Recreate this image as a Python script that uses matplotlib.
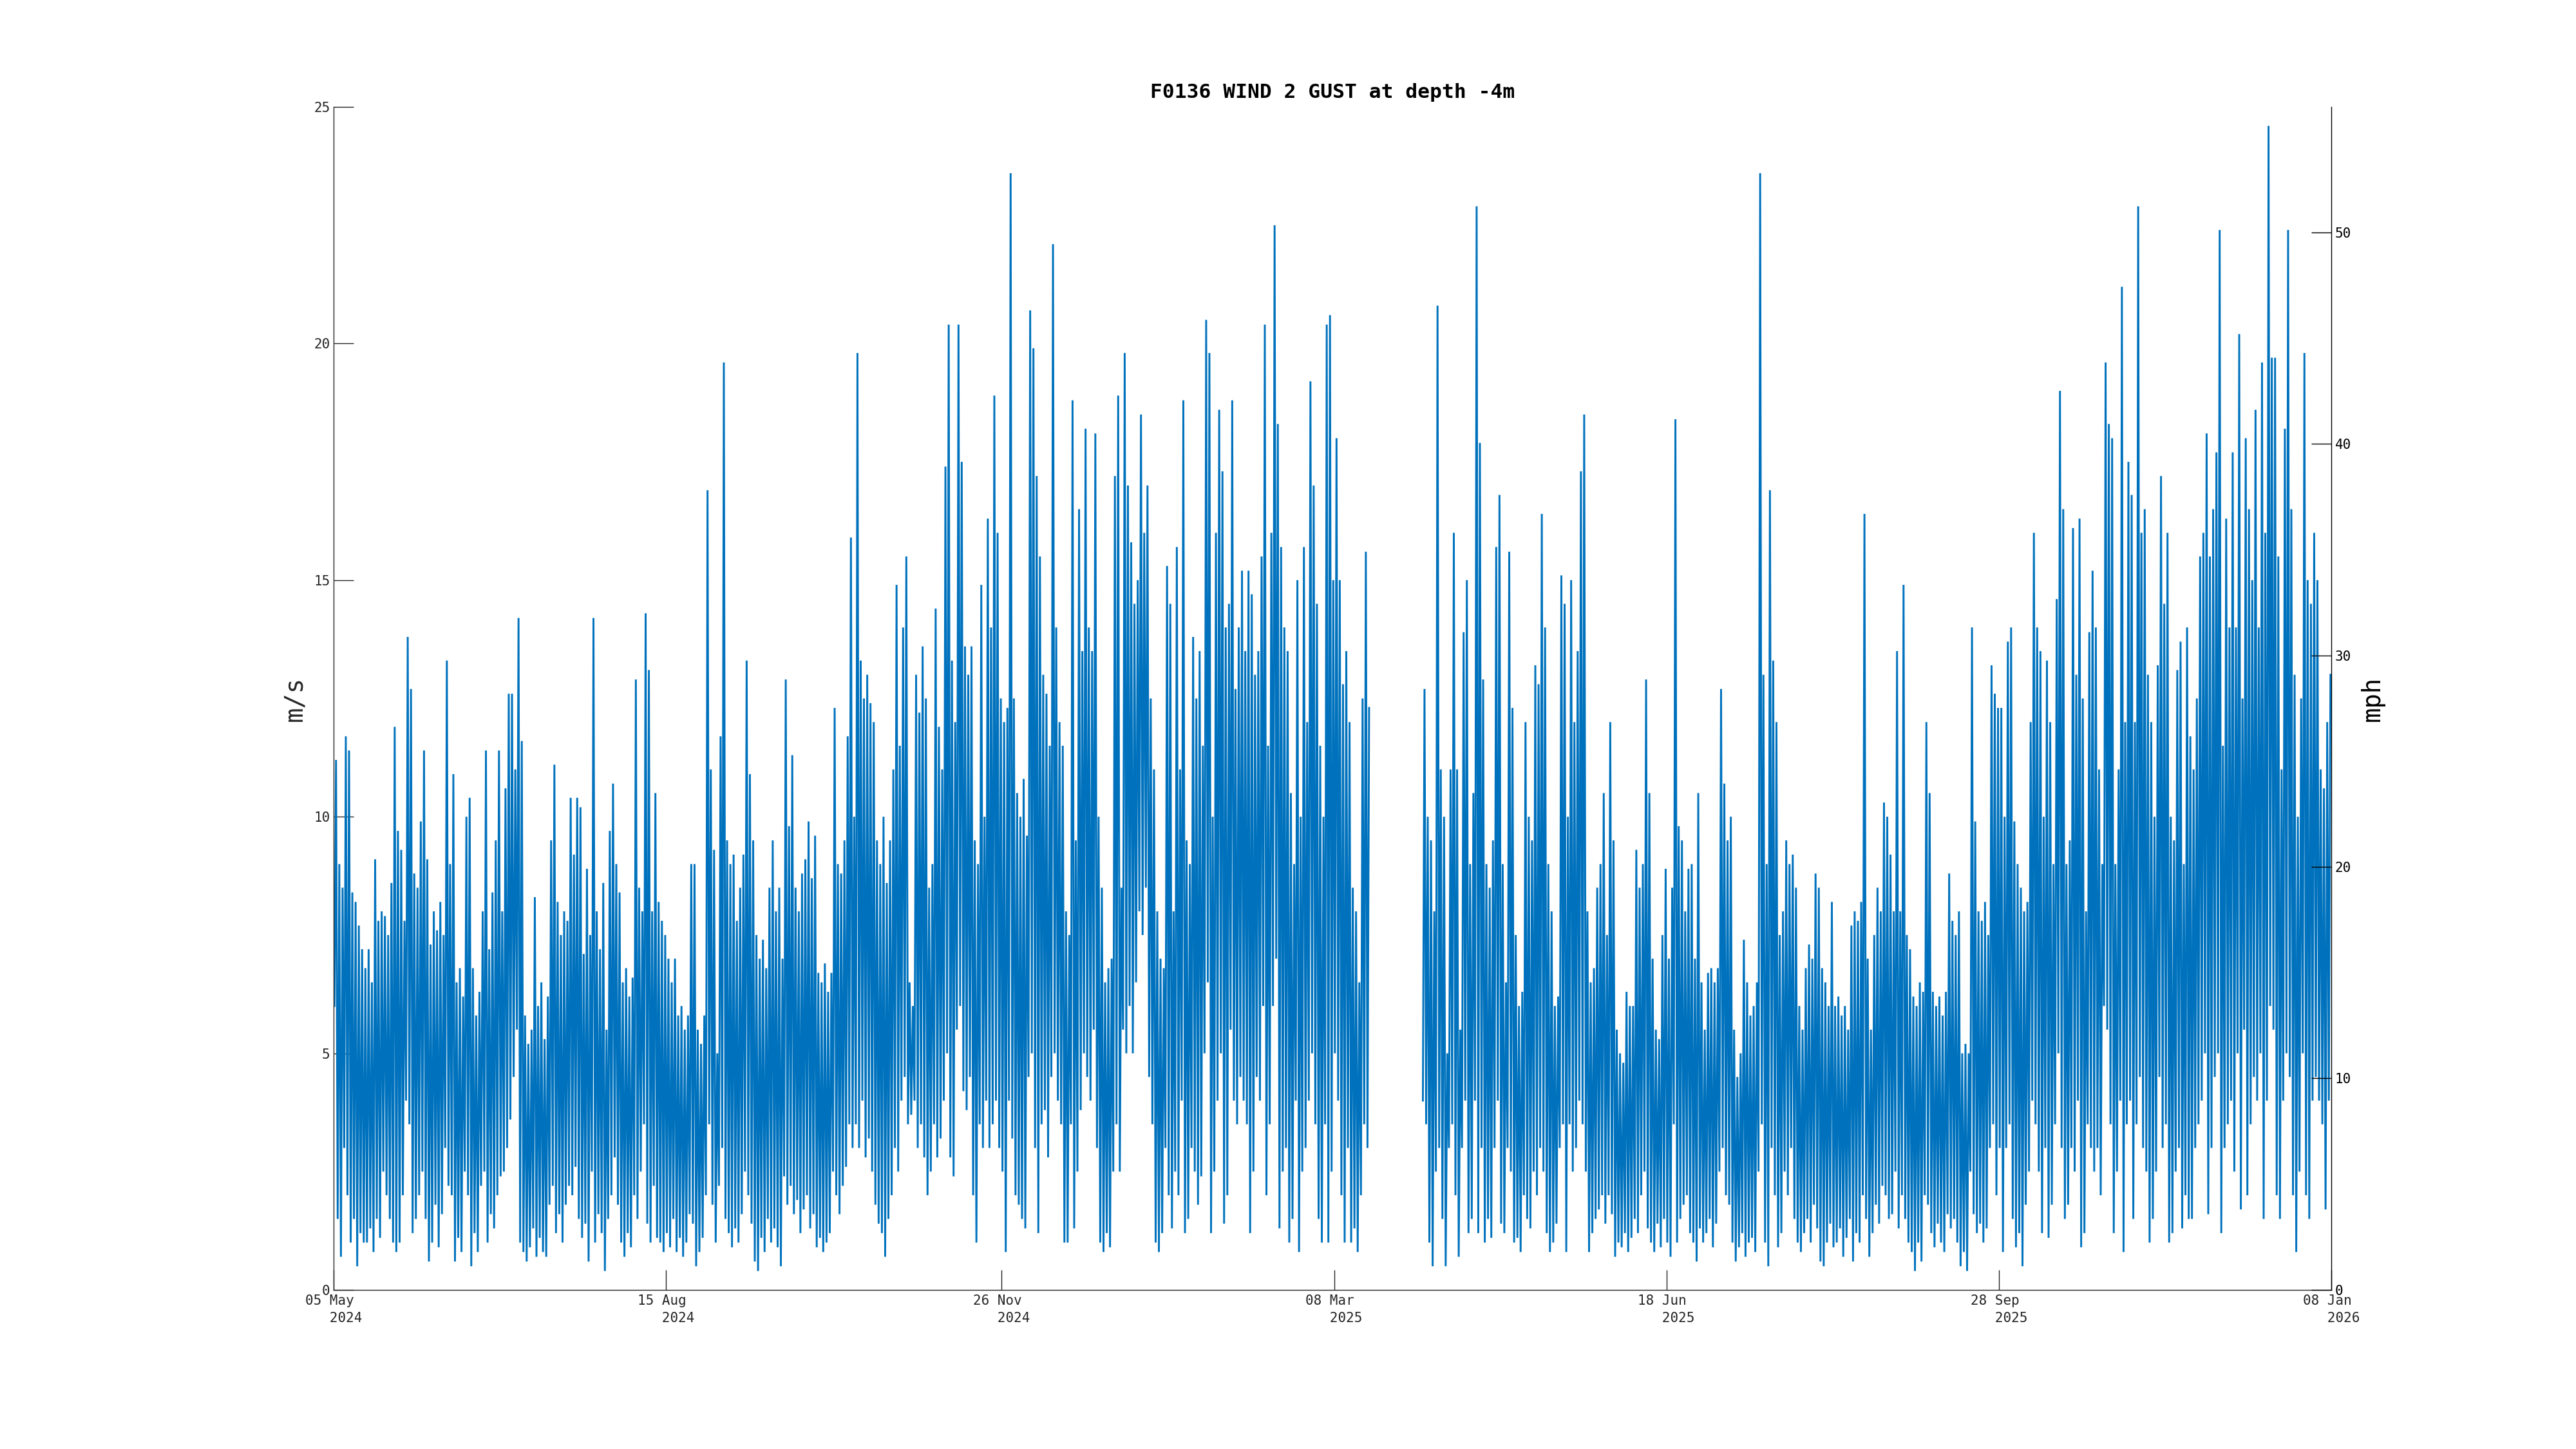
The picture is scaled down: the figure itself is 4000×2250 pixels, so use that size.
import numpy as np
import pandas as pd
import matplotlib
matplotlib.use("Agg")
import matplotlib.pyplot as plt

nan = float("nan")

# ---------------- data ----------------
title = "F0136 WIND 2 GUST at depth -4m"
first_day = "2024-05-05"

# estimated daily maximum gust (m/s), one value per day from 05 May 2024
daily_high = [
    11.2, 9.0, 8.5, 11.7, 11.4, 8.4, 8.2, 7.7, 7.2, 6.8,
    7.2, 6.5, 9.1, 7.8, 8.0, 7.9, 7.5, 8.6, 11.9, 9.7,
    9.3, 7.8, 13.8, 12.7, 8.8, 8.5, 9.9, 11.4, 9.1, 7.3,
    8.0, 7.6, 8.2, 7.5, 13.3, 9.0, 10.9, 6.5, 6.8, 6.2,
    10.0, 10.4, 6.8, 5.8, 6.3, 8.0, 11.4, 7.2, 8.4, 9.5,
    11.4, 8.0, 10.6, 12.6, 12.6, 11.0, 14.2, 11.6, 5.8, 5.2,
    5.5, 8.3, 6.0, 6.5, 5.3, 6.2, 9.5, 11.1, 8.2, 7.5,
    8.0, 7.8, 10.4, 9.2, 10.4, 10.2, 7.1, 8.9, 7.5, 14.2,
    8.0, 7.2, 8.6, 5.5, 9.7, 10.7, 9.0, 8.4, 6.5, 6.8,
    6.2, 6.6, 12.9, 8.5, 8.0, 14.3, 13.1, 8.0, 10.5, 8.2,
    7.8, 7.5, 7.0, 6.5, 7.0, 5.8, 6.0, 5.5, 5.8, 9.0,
    9.0, 5.5, 5.2, 5.8, 16.9, 11.0, 9.3, 5.0, 11.7, 19.6,
    9.5, 9.0, 9.2, 7.8, 8.5, 9.2, 13.3, 10.9, 9.5, 7.5,
    7.0, 7.4, 6.8, 8.5, 9.5, 8.0, 8.5, 7.0, 12.9, 9.8,
    11.3, 8.5, 8.0, 8.8, 9.1, 9.9, 8.7, 9.6, 6.7, 6.5,
    6.9, 6.3, 6.7, 12.3, 9.0, 8.8, 9.5, 11.7, 15.9, 10.0,
    19.8, 13.3, 12.5, 13.0, 12.4, 12.0, 9.5, 9.0, 10.0, 8.6,
    9.5, 11.0, 14.9, 11.5, 14.0, 15.5, 6.5, 6.0, 13.0, 12.2,
    13.6, 12.5, 8.5, 9.0, 14.4, 11.9, 11.0, 17.4, 20.4, 13.3,
    12.0, 20.4, 17.5, 13.6, 13.0, 13.6, 9.5, 9.0, 14.9, 10.0,
    16.3, 14.0, 18.9, 16.0, 12.5, 12.0, 12.3, 23.6, 12.5, 10.5,
    10.0, 10.8, 9.6, 20.7, 19.9, 17.2, 15.5, 13.0, 12.6, 11.5,
    22.1, 14.0, 12.0, 11.5, 8.0, 7.5, 18.8, 9.5, 16.5, 13.5,
    18.2, 14.0, 13.5, 18.1, 10.0, 8.5, 6.5, 6.8, 7.0, 17.2,
    18.9, 8.5, 19.8, 17.0, 15.8, 14.5, 15.0, 18.5, 16.0, 17.0,
    12.5, 11.0, 8.0, 7.0, 6.8, 15.3, 14.5, 8.0, 15.7, 11.0,
    18.8, 9.5, 9.0, 13.8, 12.5, 13.5, 11.5, 20.5, 19.8, 10.0,
    16.0, 18.6, 17.3, 14.0, 14.5, 18.8, 12.7, 14.0, 15.2, 13.5,
    15.2, 14.7, 13.0, 13.5, 15.5, 20.4, 11.5, 16.0, 22.5, 18.3,
    15.7, 14.0, 13.5, 10.5, 9.0, 15.0, 10.0, 15.7, 12.0, 19.2,
    17.0, 14.5, 11.5, 10.0, 20.4, 20.6, 15.0, 18.0, 15.0, 12.8,
    13.5, 12.0, 8.5, 8.0, 6.5, 12.5, 15.6, 12.3,
    nan, nan, nan, nan, nan, nan, nan, nan,
    nan, nan, nan, nan, nan, nan, nan, nan,
    12.7, 10.0, 9.5, 8.0, 20.8, 11.0,
    10.0, 5.0, 11.0, 16.0, 11.0, 5.5, 13.9, 15.0, 9.0, 10.5,
    22.9, 17.9, 12.9, 9.0, 8.5, 9.5, 15.7, 16.8, 9.0, 6.5,
    15.6, 12.3, 7.5, 6.0, 6.3, 12.0, 10.0, 9.5, 13.2, 12.8,
    16.4, 14.0, 9.0, 8.0, 6.0, 6.2, 15.1, 14.5, 10.0, 15.0,
    12.0, 13.5, 17.3, 18.5, 8.0, 6.5, 6.8, 8.5, 9.0, 10.5,
    7.5, 12.0, 9.5, 5.5, 5.0, 4.8, 6.3, 6.0, 6.0, 9.3,
    8.5, 9.0, 12.9, 10.5, 7.0, 5.5, 5.3, 7.5, 8.9, 7.0,
    8.5, 18.4, 9.8, 9.5, 8.0, 8.9, 9.0, 7.0, 10.5, 6.5,
    5.5, 6.7, 6.8, 6.5, 6.8, 12.7, 10.7, 9.5, 10.0, 5.5,
    4.5, 5.0, 7.4, 6.5, 5.8, 6.0, 6.5, 23.6, 13.0, 9.0,
    16.9, 13.3, 12.0, 7.5, 8.0, 9.5, 9.0, 9.2, 8.5, 6.0,
    5.5, 6.8, 7.3, 7.0, 8.8, 8.5, 6.8, 6.5, 6.0, 8.2,
    6.0, 6.2, 5.8, 6.0, 5.5, 7.7, 8.0, 7.8, 8.2, 16.4,
    7.0, 5.5, 7.5, 8.5, 8.0, 10.3, 10.0, 9.2, 8.0, 13.5,
    8.0, 14.9, 7.5, 7.2, 6.2, 6.0, 6.5, 6.3, 12.0, 10.5,
    6.3, 6.0, 6.2, 5.8, 6.3, 8.8, 7.8, 7.5, 8.0, 5.0,
    5.2, 5.0, 14.0, 9.9, 8.0, 7.8, 8.2, 7.5, 13.2, 12.6,
    12.3, 12.3, 10.0, 13.7, 14.0, 9.9, 9.0, 8.5, 8.0, 8.2,
    12.0, 16.0, 14.0, 13.5, 10.0, 13.3, 12.0, 9.0, 14.6, 19.0,
    16.5, 9.0, 9.5, 16.1, 13.0, 16.3, 12.5, 8.0, 13.9, 15.2,
    14.0, 11.0, 9.0, 19.6, 18.3, 18.0, 9.0, 11.0, 21.2, 12.0,
    17.5, 16.8, 12.0, 22.9, 16.0, 16.5, 13.0, 12.0, 10.0, 13.2,
    17.2, 14.5, 16.0, 10.0, 9.5, 13.1, 13.7, 9.0, 14.0, 11.7,
    11.0, 12.5, 15.5, 16.0, 18.1, 15.5, 16.5, 17.7, 22.4, 11.5,
    16.3, 14.0, 17.7, 14.0, 20.2, 12.5, 18.0, 16.5, 15.0, 18.6,
    14.0, 19.6, 16.0, 24.6, 19.7, 19.7, 15.5, 11.0, 18.2, 22.4,
    16.5, 13.0, 10.0, 12.5, 19.8, 15.0, 14.5, 16.0, 15.0, 11.0,
    10.6, 12.0, 13.0,
]

# estimated daily minimum gust (m/s)
daily_low = [
    6.0, 1.5, 0.7, 3.0, 2.0, 1.0, 1.5, 0.5, 1.2, 1.0,
    1.0, 1.3, 0.8, 1.5, 1.1, 2.5, 2.0, 1.5, 1.0, 0.8,
    1.0, 2.0, 4.0, 3.5, 1.2, 1.5, 2.0, 2.5, 1.5, 0.6,
    1.0, 1.8, 0.9, 1.6, 3.0, 2.2, 2.0, 0.6, 1.1, 0.8,
    2.5, 2.0, 0.5, 1.2, 0.8, 2.2, 2.5, 1.0, 1.6, 1.3,
    2.0, 2.4, 2.5, 3.0, 3.6, 4.5, 5.5, 1.0, 0.8, 0.6,
    0.9, 1.3, 0.7, 1.1, 0.8, 0.7, 1.8, 2.2, 1.2, 1.6,
    1.0, 1.8, 2.2, 2.0, 2.6, 1.5, 1.1, 1.4, 0.6, 2.5,
    1.0, 1.6, 1.2, 0.4, 1.5, 2.0, 2.8, 1.8, 1.0, 0.7,
    1.2, 0.9, 2.0, 1.5, 2.5, 3.5, 1.4, 1.0, 2.2, 1.1,
    1.0, 0.8, 1.2, 0.9, 1.5, 0.8, 1.1, 0.7, 1.0, 1.6,
    1.4, 0.5, 0.8, 1.1, 2.0, 3.5, 1.8, 1.0, 2.2, 3.0,
    1.5, 1.2, 0.9, 1.3, 1.0, 1.6, 2.5, 2.0, 1.4, 0.6,
    0.4, 1.1, 0.8, 1.5, 1.0, 1.3, 0.9, 0.5, 2.4, 1.8,
    2.2, 1.6, 1.9, 1.2, 1.7, 2.0, 1.3, 1.6, 0.9, 1.1,
    0.8, 1.0, 1.2, 2.5, 2.0, 1.6, 2.2, 2.6, 3.5, 3.0,
    3.5, 3.0, 4.0, 2.8, 3.2, 2.5, 1.8, 1.4, 1.2, 0.7,
    1.5, 2.0, 3.0, 2.5, 4.0, 4.5, 3.5, 3.7, 4.0, 3.0,
    3.5, 2.8, 2.0, 2.5, 3.5, 2.8, 3.2, 4.0, 5.0, 2.8,
    2.4, 5.5, 6.0, 4.2, 3.8, 4.5, 2.0, 1.0, 3.5, 3.0,
    4.0, 3.0, 3.5, 4.0, 3.0, 2.5, 0.8, 4.0, 3.2, 2.0,
    1.8, 1.5, 1.3, 4.5, 5.0, 3.0, 1.2, 3.5, 3.8, 2.8,
    4.5, 5.0, 4.0, 3.5, 1.0, 1.0, 3.5, 1.3, 2.5, 3.8,
    5.0, 4.5, 4.0, 5.5, 3.0, 1.0, 0.8, 1.2, 0.9, 2.5,
    3.5, 2.5, 5.5, 5.0, 6.0, 5.0, 6.5, 8.0, 7.5, 8.5,
    4.5, 3.5, 1.0, 0.8, 1.2, 3.0, 2.0, 1.3, 2.5, 2.0,
    4.0, 1.2, 1.5, 3.0, 2.5, 1.8, 2.4, 5.0, 6.5, 1.2,
    2.5, 4.0, 5.0, 1.4, 2.0, 5.5, 4.0, 3.5, 4.5, 4.0,
    3.5, 1.2, 2.5, 4.5, 4.0, 6.0, 2.0, 3.5, 6.0, 7.0,
    1.3, 2.5, 3.0, 1.0, 1.5, 4.0, 0.8, 2.5, 3.0, 4.0,
    5.0, 3.5, 1.5, 1.0, 3.5, 1.0, 2.5, 5.0, 4.0, 2.0,
    1.0, 3.0, 1.0, 1.3, 0.8, 2.0, 3.5, 3.0,
    nan, nan, nan, nan, nan, nan, nan, nan,
    nan, nan, nan, nan, nan, nan, nan, nan,
    4.0, 3.5, 1.0, 0.5, 2.5, 3.0,
    1.5, 0.5, 3.0, 3.5, 2.0, 0.7, 3.0, 4.0, 1.2, 1.5,
    4.0, 1.2, 3.0, 1.0, 1.5, 1.1, 3.0, 4.0, 1.4, 1.2,
    3.0, 2.5, 1.0, 1.1, 0.8, 2.0, 1.5, 1.3, 2.5, 2.0,
    3.0, 2.5, 1.2, 0.8, 1.0, 1.4, 3.0, 3.5, 0.8, 3.5,
    2.5, 3.0, 4.0, 3.5, 2.5, 0.8, 1.2, 1.5, 1.7, 2.0,
    1.4, 2.0, 1.6, 0.7, 1.0, 0.9, 1.2, 0.8, 1.1, 1.5,
    1.2, 2.0, 2.5, 1.3, 1.0, 0.8, 1.4, 0.9, 1.5, 1.0,
    0.7, 3.5, 1.0, 1.5, 1.8, 2.0, 1.2, 1.0, 0.6, 1.3,
    1.0, 1.2, 1.5, 0.9, 1.4, 2.5, 3.0, 2.0, 1.8, 1.0,
    0.6, 0.9, 1.2, 0.7, 1.0, 1.1, 0.8, 2.5, 3.5, 1.0,
    0.5, 3.0, 2.0, 0.9, 1.2, 2.5, 2.0, 3.0, 1.5, 1.0,
    0.8, 1.2, 1.5, 1.0, 1.8, 1.3, 0.6, 0.5, 1.0, 1.4,
    0.9, 1.0, 1.3, 0.7, 1.1, 1.5, 0.6, 1.2, 1.0, 2.0,
    1.5, 0.7, 1.2, 1.8, 1.4, 2.2, 2.0, 1.5, 1.6, 2.5,
    1.3, 2.0, 1.5, 1.0, 0.8, 0.4, 1.0, 0.6, 2.0, 1.8,
    1.2, 0.9, 1.4, 1.0, 0.8, 1.6, 1.3, 1.5, 1.0, 0.5,
    0.8, 0.4, 2.5, 1.6, 1.2, 1.4, 1.0, 1.3, 3.0, 3.5,
    2.0, 3.0, 0.8, 3.0, 3.5, 1.5, 0.9, 1.2, 0.5, 1.8,
    2.5, 4.0, 3.5, 2.5, 1.2, 3.0, 1.1, 1.8, 3.5, 5.0,
    3.0, 1.5, 1.8, 3.0, 2.5, 4.0, 0.9, 1.2, 3.5, 3.0,
    2.5, 3.0, 2.0, 6.0, 5.5, 3.5, 1.2, 2.5, 4.0, 0.8,
    3.5, 4.0, 1.5, 3.5, 4.5, 3.0, 2.5, 1.0, 1.5, 2.5,
    4.5, 3.0, 3.5, 1.0, 1.2, 2.5, 3.0, 1.3, 2.0, 1.5,
    1.5, 3.0, 3.5, 4.0, 5.0, 1.6, 3.0, 4.5, 5.0, 1.2,
    3.0, 3.5, 4.0, 2.5, 5.0, 1.7, 5.5, 2.0, 3.5, 4.5,
    4.0, 5.0, 1.5, 4.0, 6.0, 5.5, 2.0, 1.5, 4.0, 5.0,
    4.5, 2.0, 0.8, 2.5, 5.0, 2.0, 1.5, 4.0, 4.5, 4.0,
    3.5, 1.7, 4.0,
]

x_tick_dates = ["2024-05-05", "2024-08-15", "2024-11-26", "2025-03-08",
                "2025-06-18", "2025-09-28", "2026-01-08"]
x_tick_labels = ["05 May\n   2024", "15 Aug\n   2024", "26 Nov\n   2024",
                 "08 Mar\n   2025", "18 Jun\n   2025", "28 Sep\n   2025",
                 "08 Jan\n   2026"]
left_ticks = [0, 5, 10, 15, 20, 25]
right_ticks = [0, 10, 20, 30, 40, 50]
MS_TO_MPH = 2.23694

# ---------------- build the series ----------------
n = min(len(daily_high), len(daily_low))
days = pd.date_range(first_day, periods=n, freq="D")
t_low = days + pd.Timedelta(hours=6)
t_high = days + pd.Timedelta(hours=18)
times = np.empty(2 * n, dtype="datetime64[ns]")
times[0::2] = t_low.values
times[1::2] = t_high.values
vals = np.empty(2 * n)
vals[0::2] = np.array(daily_low[:n], dtype=float)
vals[1::2] = np.array(daily_high[:n], dtype=float)

# ---------------- figure ----------------
mono = "DejaVu Sans Mono"
dark = "#262626"
plt.rcParams["font.family"] = mono

fig = plt.figure(figsize=(40, 22.5), dpi=100)
ax = fig.add_axes([0.1295, 0.1098, 0.7755, 0.8164])
ax.plot(times, vals, color="#0072BD", lw=2.1, solid_joinstyle="miter")

ax.set_xlim(pd.Timestamp(x_tick_dates[0]), pd.Timestamp(x_tick_dates[-1]))
ax.set_ylim(0, 25)
ax.set_yticks(left_ticks)
ax.set_xticks([pd.Timestamp(d) for d in x_tick_dates])
ax.set_xticklabels(x_tick_labels)
for lbl in ax.get_xticklabels():
    lbl.set_multialignment("left")
    lbl.set_linespacing(1.45)

ax.tick_params(axis="both", direction="in", length=22, width=1.0,
               colors=dark, labelsize=15)
ax.tick_params(axis="y", pad=4)
ax.tick_params(axis="x", pad=5)
ax.tick_params(axis="y", right=False)

for side in ["top", "right"]:
    ax.spines[side].set_visible(False)
for side in ["left", "bottom"]:
    ax.spines[side].set_color(dark)
    ax.spines[side].set_linewidth(1.0)

ax.set_ylabel("m/s", fontsize=28, color=dark)
ax.yaxis.set_label_coords(-0.0135, 0.5)
ax.set_title(title, fontsize=22.5, fontweight="bold", color="black", pad=10)

ax2 = ax.twinx()
ax2.set_ylim(0, 25 * MS_TO_MPH)
ax2.set_yticks(right_ticks)
ax2.tick_params(axis="y", direction="in", length=22, width=1.0,
                colors="black", labelsize=15, pad=4)
for side in ["top", "left", "bottom"]:
    ax2.spines[side].set_visible(False)
ax2.spines["right"].set_color("black")
ax2.spines["right"].set_linewidth(1.0)
ax2.set_ylabel("mph", fontsize=28, color="black")
ax2.yaxis.set_label_coords(1.0145, 0.5)

fig.savefig("out.png", dpi=100, facecolor="white")
